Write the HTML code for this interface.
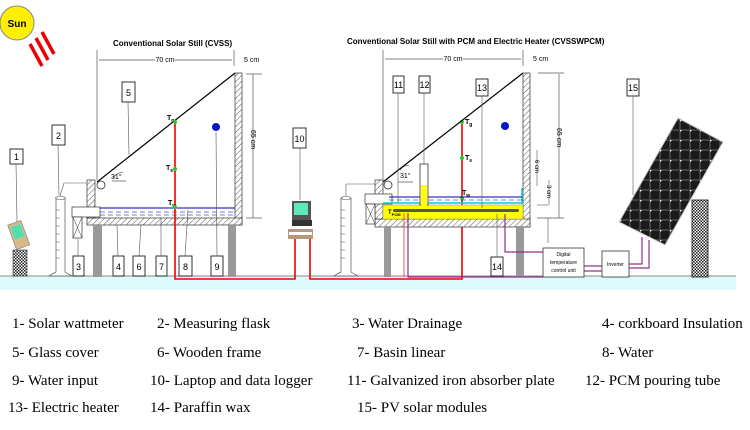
<!DOCTYPE html>
<html><head><meta charset="utf-8"><style>
body{margin:0;background:#fff}
svg{display:block}
.s{font-family:"Liberation Sans",sans-serif}
.t{font-family:"Liberation Serif",serif;font-size:15px}
</style></head><body>
<svg width="750" height="430" viewBox="0 0 750 430" xmlns="http://www.w3.org/2000/svg">
<defs>
<pattern id="h" width="4" height="4" patternUnits="userSpaceOnUse" patternTransform="rotate(45)"><rect width="4" height="4" fill="#fff"/><line x1="0" y1="0" x2="0" y2="4" stroke="#555" stroke-width="1"/></pattern>
<pattern id="x" width="3" height="3" patternUnits="userSpaceOnUse"><rect width="3" height="3" fill="#fff"/><rect width="1.5" height="1.5" fill="#222"/><rect x="1.5" y="1.5" width="1.5" height="1.5" fill="#222"/></pattern>
<pattern id="pv" width="10" height="10" patternUnits="userSpaceOnUse"><rect width="10" height="10" fill="#222"/><rect x="0.5" y="0.5" width="9" height="9" fill="#1a1a1a" stroke="#555" stroke-width="0.6"/><circle cx="0.5" cy="0.5" r="1" fill="#fff"/></pattern>
</defs>
<rect x="0" y="276" width="736" height="14" fill="#dcfafc"/>
<line x1="0" y1="276" x2="736" y2="276" stroke="#888" stroke-width="1"/>
<circle cx="17" cy="23" r="17" fill="#ffef00" stroke="#888"/>
<text x="17" y="27" class="s" font-size="10" font-weight="bold" text-anchor="middle">Sun</text>
<g stroke="#e00" stroke-width="3.5">
<line x1="30" y1="44" x2="42" y2="66"/><line x1="36" y1="38" x2="48" y2="60"/><line x1="42" y1="32" x2="54" y2="54"/></g>
<text x="113" y="46" class="s" font-size="8" font-weight="bold">Conventional Solar Still (CVSS)</text>
<line x1="97" y1="50" x2="97" y2="180" stroke="#555" stroke-width="0.7"/>
<line x1="234" y1="50" x2="234" y2="66" stroke="#555" stroke-width="0.7"/>
<line x1="99" y1="60" x2="232" y2="60" stroke="#555" stroke-width="0.7"/>
<rect x="155" y="55" width="20" height="9" fill="#fff"/><text x="165" y="62" class="s" font-size="7" text-anchor="middle">70 cm</text>
<text x="244" y="62" class="s" font-size="7">5 cm</text>
<line x1="253" y1="74" x2="253" y2="218" stroke="#555" stroke-width="0.7"/>
<line x1="246" y1="74" x2="262" y2="74" stroke="#555" stroke-width="0.7"/><line x1="246" y1="218" x2="262" y2="218" stroke="#555" stroke-width="0.7"/>
<text x="0" y="0" class="s" font-size="7" transform="translate(251,130) rotate(90)">65 cm</text>
<line x1="97" y1="182" x2="235" y2="73" stroke="#000" stroke-width="1.2"/>
<rect x="235" y="73" width="7" height="152" fill="url(#h)" stroke="#333" stroke-width="0.7"/>
<rect x="87" y="218" width="155" height="7" fill="url(#h)" stroke="#333" stroke-width="0.7"/>
<rect x="87" y="180" width="8" height="38" fill="url(#h)" stroke="#333" stroke-width="0.7"/>
<circle cx="101" cy="185" r="4" fill="#fff" stroke="#333" stroke-width="0.8"/>
<rect x="72" y="207" width="28" height="10" fill="#fff" stroke="#333" stroke-width="0.7"/>
<rect x="73" y="217" width="9" height="21" fill="#fff" stroke="#333" stroke-width="0.7"/>
<line x1="73" y1="217" x2="82" y2="238" stroke="#333" stroke-width="0.5"/><line x1="82" y1="217" x2="73" y2="238" stroke="#333" stroke-width="0.5"/>
<line x1="100" y1="208" x2="235" y2="208" stroke="#00a" stroke-width="1"/>
<line x1="100" y1="212" x2="235" y2="212" stroke="#00a" stroke-width="0.6" stroke-dasharray="5,3"/>
<line x1="100" y1="215" x2="235" y2="215" stroke="#00a" stroke-width="0.6" stroke-dasharray="5,3"/>
<rect x="93" y="225" width="9" height="52" fill="#999"/><rect x="228" y="225" width="8" height="52" fill="#999"/>
<path d="M113 178 A 14 14 0 0 1 123 172" fill="none" stroke="#333" stroke-width="0.6"/><line x1="112" y1="181" x2="126" y2="181" stroke="#333" stroke-width="0.6"/>
<text x="111" y="179" class="s" font-size="7">31°</text>
<path d="M56 198 L56 272 Q52 274 49 276 L72 276 Q68 274 65 272 L65 198" fill="#fff" stroke="#555" stroke-width="0.7"/>
<ellipse cx="60.5" cy="198" rx="5" ry="1.5" fill="#fff" stroke="#555" stroke-width="0.6"/>
<g stroke="#555" stroke-width="0.5"><line x1="56" y1="210" x2="60" y2="210"/><line x1="56" y1="218" x2="60" y2="218"/><line x1="56" y1="226" x2="60" y2="226"/><line x1="56" y1="234" x2="60" y2="234"/><line x1="56" y1="242" x2="60" y2="242"/><line x1="56" y1="250" x2="60" y2="250"/><line x1="56" y1="258" x2="60" y2="258"/></g>
<polyline points="60,196 64,183 87,183" fill="none" stroke="#555" stroke-width="0.6"/>
<rect x="13" y="250" width="14" height="26" fill="url(#x)" stroke="#333" stroke-width="0.6"/>
<g transform="rotate(-20 19 236)"><rect x="12" y="222" width="14" height="26" fill="#d8b98a" stroke="#777" stroke-width="0.6"/><rect x="14" y="225" width="10" height="13" fill="#4fe0b0"/></g>
<g class="s" font-size="9" text-anchor="middle" stroke-width="0.8">
<g fill="#fff" stroke="#000"><rect x="10" y="149" width="13" height="15"/><rect x="52" y="125" width="13" height="20"/><rect x="73" y="256" width="11" height="20"/><rect x="113" y="256" width="11" height="20"/><rect x="133" y="256" width="12" height="20"/><rect x="156" y="256" width="11" height="20"/><rect x="179" y="256" width="13" height="20"/><rect x="211" y="256" width="12" height="20"/><rect x="122" y="82" width="13" height="20"/><rect x="293" y="128" width="13" height="20"/></g>
<g fill="#000"><text x="16.5" y="160">1</text><text x="58.5" y="139">2</text><text x="78.5" y="270">3</text><text x="118.5" y="270">4</text><text x="139" y="270">6</text><text x="161.5" y="270">7</text><text x="185.5" y="270">8</text><text x="217" y="270">9</text><text x="128.5" y="96">5</text><text x="299.5" y="142">10</text></g>
</g>
<g stroke="#555" stroke-width="0.6" fill="none">
<line x1="16" y1="164" x2="17" y2="222"/><line x1="58" y1="145" x2="59" y2="195"/><line x1="78" y1="256" x2="78" y2="239"/><line x1="118" y1="256" x2="117" y2="225"/><line x1="139" y1="256" x2="141" y2="225"/><line x1="161" y1="256" x2="161" y2="218"/><line x1="185" y1="256" x2="188" y2="210"/><line x1="217" y1="256" x2="216" y2="132"/><line x1="128" y1="102" x2="129" y2="155"/><line x1="300" y1="148" x2="300" y2="200"/></g>
<circle cx="216" cy="127" r="4" fill="#0018c8"/>
<text x="167" y="120" class="s" font-size="7" font-weight="bold">T<tspan font-size="5" dy="2">g</tspan></text>
<text x="166" y="170" class="s" font-size="7" font-weight="bold">T<tspan font-size="5" dy="2">s</tspan></text>
<text x="168" y="205" class="s" font-size="7" font-weight="bold">T<tspan font-size="5" dy="2">w</tspan></text>
<rect x="292" y="201" width="19" height="19" fill="#555"/><rect x="294" y="203" width="14" height="12" fill="#5fe8b8"/>
<rect x="292" y="220" width="20" height="6" fill="#333"/>
<rect x="288" y="229" width="25" height="10" fill="#b89878"/><rect x="289" y="232" width="23" height="3" fill="#fff"/>
<polyline points="175,122 175,279 295,279 295,239" fill="none" stroke="#e00" stroke-width="1.6"/>
<polyline points="310,239 310,279 462,279 462,122" fill="none" stroke="#e00" stroke-width="1.6"/>
<g fill="#2c2"><circle cx="175" cy="122" r="2"/><circle cx="175" cy="169" r="2"/><circle cx="175" cy="207" r="2"/><circle cx="462" cy="122" r="2"/><circle cx="462" cy="158" r="2"/><circle cx="462" cy="198" r="2"/><circle cx="406" cy="213" r="2"/></g>
<text x="347" y="44" class="s" font-size="8" font-weight="bold">Conventional Solar Still with PCM and Electric Heater (CVSSWPCM)</text>
<line x1="383" y1="50" x2="383" y2="180" stroke="#555" stroke-width="0.7"/>
<line x1="523" y1="50" x2="523" y2="66" stroke="#555" stroke-width="0.7"/>
<line x1="385" y1="59" x2="521" y2="59" stroke="#555" stroke-width="0.7"/>
<rect x="443" y="54" width="20" height="9" fill="#fff"/><text x="453" y="61" class="s" font-size="7" text-anchor="middle">70 cm</text>
<text x="533" y="61" class="s" font-size="7">5 cm</text>
<line x1="559" y1="74" x2="559" y2="218" stroke="#555" stroke-width="0.7"/>
<line x1="538" y1="73" x2="564" y2="73" stroke="#555" stroke-width="0.7"/><line x1="537" y1="218" x2="564" y2="218" stroke="#555" stroke-width="0.7"/>
<text x="0" y="0" class="s" font-size="7" transform="translate(557,128) rotate(90)">65 cm</text>
<line x1="537" y1="150" x2="537" y2="186" stroke="#555" stroke-width="0.6"/><text x="0" y="0" class="s" font-size="6" transform="translate(535,160) rotate(90)">6 cm</text>
<line x1="549" y1="180" x2="549" y2="205" stroke="#555" stroke-width="0.6"/><text x="0" y="0" class="s" font-size="6" transform="translate(547,185) rotate(90)">3 cm</text>
<line x1="537" y1="205" x2="548" y2="205" stroke="#555" stroke-width="0.6"/>
<line x1="548" y1="218" x2="548" y2="243" stroke="#555" stroke-width="0.6"/>
<line x1="383" y1="182" x2="523" y2="73" stroke="#000" stroke-width="1.2"/>
<rect x="523" y="73" width="7" height="154" fill="url(#h)" stroke="#333" stroke-width="0.7"/>
<rect x="375" y="219" width="155" height="8" fill="url(#h)" stroke="#333" stroke-width="0.7"/>
<rect x="375" y="180" width="8" height="39" fill="url(#h)" stroke="#333" stroke-width="0.7"/>
<circle cx="388" cy="185" r="4" fill="#fff" stroke="#333" stroke-width="0.8"/>
<rect x="365" y="194" width="27" height="10" fill="#fff" stroke="#333" stroke-width="0.7"/>
<rect x="366" y="204" width="9" height="20" fill="#fff" stroke="#333" stroke-width="0.7"/>
<line x1="366" y1="204" x2="375" y2="224" stroke="#333" stroke-width="0.5"/><line x1="375" y1="204" x2="366" y2="224" stroke="#333" stroke-width="0.5"/>
<rect x="383" y="205" width="140" height="14" fill="#ffff00" stroke="#888" stroke-width="0.5"/>
<rect x="393" y="209" width="126" height="3" fill="#555" rx="1.5"/>
<line x1="383" y1="203" x2="523" y2="203" stroke="#1cc" stroke-width="1.5"/>
<line x1="522" y1="188" x2="522" y2="204" stroke="#1cc" stroke-width="1.5"/>
<line x1="389" y1="197" x2="522" y2="197" stroke="#00a" stroke-width="1"/>
<line x1="389" y1="200" x2="522" y2="200" stroke="#00a" stroke-width="0.6" stroke-dasharray="5,3"/>
<rect x="420" y="164" width="8" height="41" fill="#fff" stroke="#333" stroke-width="0.8"/>
<rect x="421" y="185" width="6" height="21" fill="#ffff00"/>
<rect x="384" y="226" width="7" height="51" fill="#999"/><rect x="516" y="226" width="8" height="51" fill="#999"/>
<path d="M400 170 A 14 14 0 0 1 409 165" fill="none" stroke="#333" stroke-width="0.6"/><line x1="398" y1="182" x2="413" y2="182" stroke="#333" stroke-width="0.6"/>
<text x="400" y="178" class="s" font-size="7">31°</text>
<text x="465" y="124" class="s" font-size="7" font-weight="bold">T<tspan font-size="5" dy="2">g</tspan></text>
<text x="465" y="160" class="s" font-size="7" font-weight="bold">T<tspan font-size="5" dy="2">s</tspan></text>
<text x="462" y="195" class="s" font-size="7" font-weight="bold">T<tspan font-size="5" dy="2">w</tspan></text>
<text x="388" y="214" class="s" font-size="6" font-weight="bold">T<tspan font-size="4" dy="2">PCM</tspan></text>
<circle cx="505" cy="126" r="4" fill="#0018c8"/>
<path d="M341 198 L341 272 Q337 274 334 276 L358 276 Q354 274 351 272 L351 198" fill="#fff" stroke="#555" stroke-width="0.7"/>
<ellipse cx="346" cy="198" rx="5" ry="1.5" fill="#fff" stroke="#555" stroke-width="0.6"/>
<g stroke="#555" stroke-width="0.5"><line x1="341" y1="210" x2="345" y2="210"/><line x1="341" y1="218" x2="345" y2="218"/><line x1="341" y1="226" x2="345" y2="226"/><line x1="341" y1="234" x2="345" y2="234"/><line x1="341" y1="242" x2="345" y2="242"/><line x1="341" y1="250" x2="345" y2="250"/><line x1="341" y1="258" x2="345" y2="258"/></g>
<polyline points="346,196 346,184 375,184" fill="none" stroke="#555" stroke-width="0.6"/>
<g class="s" font-size="9" text-anchor="middle" stroke-width="0.8">
<g fill="#fff" stroke="#000"><rect x="393" y="76" width="11" height="17"/><rect x="419" y="76" width="11" height="17"/><rect x="476" y="79" width="12" height="17"/><rect x="627" y="79" width="12" height="17"/><rect x="491" y="257" width="12" height="19"/></g>
<g fill="#000"><text x="398.5" y="88">11</text><text x="424.5" y="88">12</text><text x="482" y="91">13</text><text x="633" y="91">15</text><text x="497" y="270">14</text></g>
</g>
<g stroke="#555" stroke-width="0.6" fill="none"><line x1="398" y1="93" x2="398" y2="203"/><line x1="424" y1="93" x2="424" y2="164"/><line x1="482" y1="96" x2="482" y2="208"/><line x1="633" y1="96" x2="633" y2="195"/><line x1="497" y1="257" x2="497" y2="214"/></g>
<line x1="404" y1="213" x2="404" y2="277" stroke="#e33" stroke-width="0.8"/>
<g fill="none" stroke="#90308f" stroke-width="1.2">
<polyline points="408,213 408,277 543,277"/>
<polyline points="505,214 505,252 543,252"/>
<line x1="584" y1="266" x2="602" y2="266"/><line x1="584" y1="271" x2="602" y2="271"/>
<polyline points="629,264 642,264 642,237"/><polyline points="629,268 649,268 649,240"/>
</g>
<rect x="543" y="248" width="41" height="29" fill="#fff" stroke="#333" stroke-width="0.8"/>
<text x="563.5" y="256" class="s" font-size="5" text-anchor="middle">Digital</text>
<text x="563.5" y="264" class="s" font-size="5" text-anchor="middle">temperature</text>
<text x="563.5" y="272" class="s" font-size="5" text-anchor="middle">control unit</text>
<rect x="602" y="251" width="27" height="26" fill="#fff" stroke="#333" stroke-width="0.8"/>
<text x="615.5" y="266" class="s" font-size="5" text-anchor="middle">Inverter</text>
<rect x="692" y="200" width="16" height="77" fill="url(#x)" stroke="#111" stroke-width="0.8"/>
<polygon points="678,118 723,142 665,245 619,222" fill="url(#pv)" stroke="#ccc" stroke-width="1"/>
<g class="t" fill="#000">
<text x="12" y="328">1- Solar wattmeter</text><text x="157" y="328">2- Measuring flask</text><text x="352" y="328">3- Water Drainage</text><text x="602" y="328">4- corkboard Insulation</text>
<text x="12" y="357">5- Glass cover</text><text x="157" y="357">6- Wooden frame</text><text x="357" y="357">7- Basin linear</text><text x="602" y="357">8- Water</text>
<text x="12" y="385">9- Water input</text><text x="150" y="385">10- Laptop and data logger</text><text x="347" y="385">11- Galvanized iron absorber plate</text><text x="585" y="385">12- PCM pouring tube</text>
<text x="8" y="412">13- Electric heater</text><text x="150" y="412">14- Paraffin wax</text><text x="357" y="412">15- PV solar modules</text>
</g>
</svg>
</body></html>
